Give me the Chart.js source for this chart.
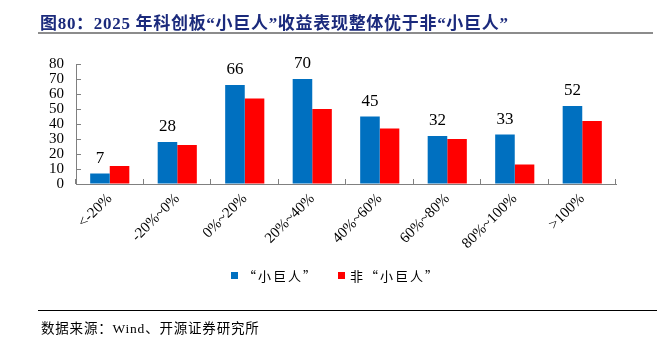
<!DOCTYPE html>
<html>
<head>
<meta charset="utf-8">
<script src="https://cdn.jsdelivr.net/npm/chart.js@4"></script>
<style>
  html, body { margin: 0; padding: 0; background: #fff; }
  #wrap { position: relative; width: 657px; height: 340px; overflow: hidden; }
  #myChart { position: absolute; left: 0; top: 0; }
  .titulo {
    position: absolute; left: 40px; top: 9px;
    font: bold 17px "Liberation Serif", "Noto Sans CJK SC", serif;
    letter-spacing: 0.7px;
    color: #1b2a7c; white-space: nowrap;
  }
  .linea-titulo { position: absolute; left: 38px; right: 4px; top: 32px; height: 2px; background: #8c8c8c; }
  .linea-fuente { position: absolute; left: 38px; right: 0; top: 310px; height: 1px; background: #000; }
  .fuente {
    position: absolute; left: 41px; top: 317px;
    font: 13.5px "Liberation Serif", "Noto Sans CJK SC", serif;
    letter-spacing: 0.8px;
    color: #000; white-space: nowrap;
  }
  #leyenda {
    position: absolute; left: 231px; top: 266px;
    display: flex; align-items: center;
    font: 13px "Noto Sans CJK SC", sans-serif;
    letter-spacing: 2px; color: #000; white-space: nowrap;
  }
  #leyenda .item { display: flex; align-items: center; margin-right: 20px; }
  #leyenda .caja { width: 7px; height: 7px; margin-right: 5px; }
</style>
</head>
<body>
<div id="wrap">
  <canvas id="myChart" width="657" height="340"></canvas>
  <div class="titulo">图80：2025 年科创板“小巨人”收益表现整体优于非“小巨人”</div>
  <div class="linea-titulo"></div>
  <div id="leyenda" lang="zh-CN"></div>
  <div class="linea-fuente"></div>
  <div class="fuente">数据来源：Wind、开源证券研究所</div>
</div>
<script>
// rangos de rendimiento y número de empresas en cada uno
const categorias = ['<-20%', '-20%~0%', '0%~20%', '20%~40%', '40%~60%', '60%~80%', '80%~100%', '>100%'];
const pequenosGigantes = [7, 28, 66, 70, 45, 32, 33, 52];
const noPequenosGigantes = [12, 26, 57, 50, 37, 30, 13, 42];
const series = ['“小巨人”', '非“小巨人”'];
const colores = ['#0070c0', '#ff0000'];
const ticksY = [0, 10, 20, 30, 40, 50, 60, 70, 80];

const fuenteSerif = '"Liberation Serif", "Noto Sans CJK SC", serif';

// marcas cortas hacia dentro en ambos ejes
const marcasEjes = {
  id: 'marcasEjes',
  afterDatasetsDraw(chart) {
    const { ctx, scales: { x, y } } = chart;
    ctx.save();
    ctx.strokeStyle = '#808080';
    ctx.lineWidth = 1;
    ctx.beginPath();
    y.ticks.forEach((t, i) => {
      const py = Math.round(y.getPixelForTick(i)) + 0.5;
      ctx.moveTo(y.right, py);
      ctx.lineTo(y.right + 5, py);
    });
    const n = categorias.length;
    for (let i = 0; i <= n; i++) {
      let px;
      if (i === 0) px = x.left;
      else if (i === n) px = x.right;
      else px = (x.getPixelForValue(i - 1) + x.getPixelForValue(i)) / 2;
      px = Math.round(px) - 0.5;
      ctx.moveTo(px, x.top);
      ctx.lineTo(px, x.top - 5);
    }
    ctx.stroke();
    ctx.restore();
  }
};

// valores encima de las barras azules
const etiquetasValor = {
  id: 'etiquetasValor',
  afterDatasetsDraw(chart) {
    const { ctx } = chart;
    const meta = chart.getDatasetMeta(0);
    ctx.save();
    ctx.font = '17px ' + fuenteSerif;
    ctx.fillStyle = '#000';
    ctx.textAlign = 'center';
    ctx.textBaseline = 'middle';
    meta.data.forEach((barra, i) => {
      ctx.fillText(String(pequenosGigantes[i]), barra.x, barra.y - 15);
    });
    ctx.restore();
  }
};

const ctx = document.getElementById('myChart');
const grafico = new Chart(ctx, {
  type: 'bar',
  data: {
    labels: categorias,
    datasets: [{
      label: series[0],
      data: pequenosGigantes,
      backgroundColor: colores[0],
      barPercentage: 1,
      categoryPercentage: 0.58
    }, {
      label: series[1],
      data: noPequenosGigantes,
      backgroundColor: colores[1],
      barPercentage: 1,
      categoryPercentage: 0.58
    }]
  },
  options: {
    responsive: false,
    animation: false,
    devicePixelRatio: 1,
    layout: { padding: { left: 36, right: 41, top: 64, bottom: 88 } },
    scales: {
      y: {
        min: 0,
        max: 80,
        afterBuildTicks: (escala) => { escala.ticks = ticksY.map(v => ({ value: v })); },
        afterFit: (escala) => { escala.width = 40; },
        ticks: { font: { family: fuenteSerif, size: 15 }, color: '#000', padding: 12, autoSkip: false },
        grid: { drawOnChartArea: false, drawTicks: false },
        border: { color: '#808080', width: 1 }
      },
      x: {
        afterFit: (escala) => { escala.height = 68; },
        ticks: { font: { family: fuenteSerif, size: 15 }, color: '#000', maxRotation: 45, minRotation: 45, padding: 6, autoSkip: false },
        grid: { drawOnChartArea: false, drawTicks: false },
        border: { color: '#808080', width: 1 }
      }
    },
    plugins: {
      legend: { display: false },
      tooltip: { enabled: false }
    }
  },
  plugins: [marcasEjes, etiquetasValor]
});

// leyenda armada con los mismos nombres y colores de las series
const leyenda = document.getElementById('leyenda');
grafico.data.datasets.forEach(ds => {
  const item = document.createElement('div');
  item.className = 'item';
  const caja = document.createElement('span');
  caja.className = 'caja';
  caja.style.background = ds.backgroundColor;
  const texto = document.createElement('span');
  texto.textContent = ds.label;
  item.appendChild(caja);
  item.appendChild(texto);
  leyenda.appendChild(item);
});
</script>
</body>
</html>
